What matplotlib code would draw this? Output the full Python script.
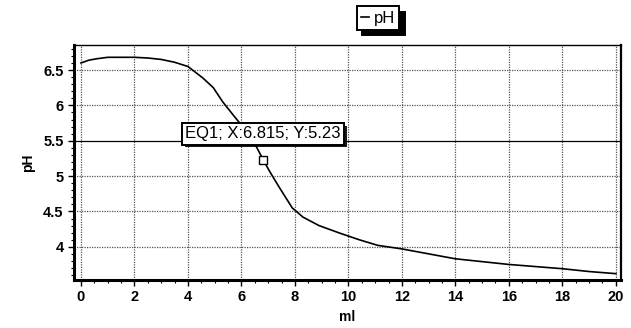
import matplotlib
matplotlib.use("Agg")
import matplotlib.pyplot as plt
import matplotlib.patheffects as pe
from matplotlib.ticker import MultipleLocator

# titration curve: volume added (ml) vs pH
ml = [0, 0.3, 0.6, 1, 1.5, 2, 2.5, 3, 3.5, 4, 4.55, 4.95, 5.3, 5.7, 6.0,
      6.4, 6.815, 7.05, 7.4, 7.9, 8.3, 8.9, 9.7, 10.4, 11.1, 12, 13, 14,
      15, 16, 17, 18, 19, 20]
ph = [6.6, 6.64, 6.66, 6.68, 6.68, 6.68, 6.67, 6.65, 6.61, 6.55, 6.39, 6.25,
      6.05, 5.86, 5.72, 5.53, 5.23, 5.07, 4.85, 4.55, 4.42, 4.3, 4.19, 4.1,
      4.02, 3.97, 3.9, 3.83, 3.79, 3.75, 3.72, 3.69, 3.65, 3.62]
eq_x = 6.815
eq_y = 5.23
x_ticks = [0, 2, 4, 6, 8, 10, 12, 14, 16, 18, 20]
y_ticks = [4, 4.5, 5, 5.5, 6, 6.5]
y_tick_labels = ["4", "4.5", "5", "5.5", "6", "6.5"]

plt.rcParams['font.family'] = ['Liberation Sans', 'DejaVu Sans']
fig = plt.figure(figsize=(6.31, 3.28), dpi=100)
ax = fig.add_axes([0.1173, 0.1463, 0.8667, 0.7165])

ax.plot(ml, ph, color="black", linewidth=1.2, label="pH")
ax.plot([eq_x], [eq_y], marker="s", markersize=6, markerfacecolor="white",
        markeredgecolor="black", markeredgewidth=1, linestyle="none")

ax.set_xlim(-0.26, 20.19)
ax.set_ylim(3.53, 6.854)
ax.set_xticks(x_ticks)
ax.set_yticks(y_ticks)
ax.set_yticklabels(y_tick_labels)
ax.xaxis.set_minor_locator(MultipleLocator(0.5))
ax.yaxis.set_minor_locator(MultipleLocator(0.1))
ax.tick_params(axis="both", which="major", labelsize=10.5, length=4, width=1)
ax.tick_params(axis="both", which="minor", length=2, width=0.8)
for lbl in ax.get_xticklabels() + ax.get_yticklabels():
    lbl.set_fontweight("bold")

ax.grid(True, which="major", color="#555555", linestyle=(0, (1, 1)), linewidth=0.9)
# the 5.5 line is drawn solid
ax.get_ygridlines()[3].set_linestyle("-")
ax.get_ygridlines()[3].set_color("black")

for spine in ['left', 'bottom']:
    ax.spines[spine].set_linewidth(2.2)
ax.spines['top'].set_linewidth(1.0)
ax.spines['right'].set_linewidth(1.6)

ax.set_xlabel("ml", fontsize=10, fontweight="bold", labelpad=4)
ax.set_ylabel("pH", fontsize=10, fontweight="bold", labelpad=6)

ann = ax.annotate("EQ1; X:%.3f; Y:%.2f" % (eq_x, eq_y), xy=(eq_x, eq_y),
                  xytext=(0, 26), textcoords="offset pixels",
                  ha="center", va="center", fontsize=12,
                  bbox=dict(boxstyle="square,pad=0.2", facecolor="white",
                            edgecolor="black", linewidth=1.4))
ann.get_bbox_patch().set_path_effects([
    pe.withSimplePatchShadow(offset=(2, -2), shadow_rgbFace="black", alpha=0.9),
    pe.Normal()])

leg = fig.legend(loc="center", bbox_to_anchor=(0.599, 0.945), fontsize=12,
                 handlelength=0.5, handletextpad=0.3, borderpad=0.25,
                 fancybox=False, edgecolor="black", framealpha=1,
                 shadow={'color': 'black', 'alpha': 1, 'ox': 4, 'oy': -4})
leg.get_frame().set_linewidth(1.4)

plt.savefig("out.png", dpi=100)
